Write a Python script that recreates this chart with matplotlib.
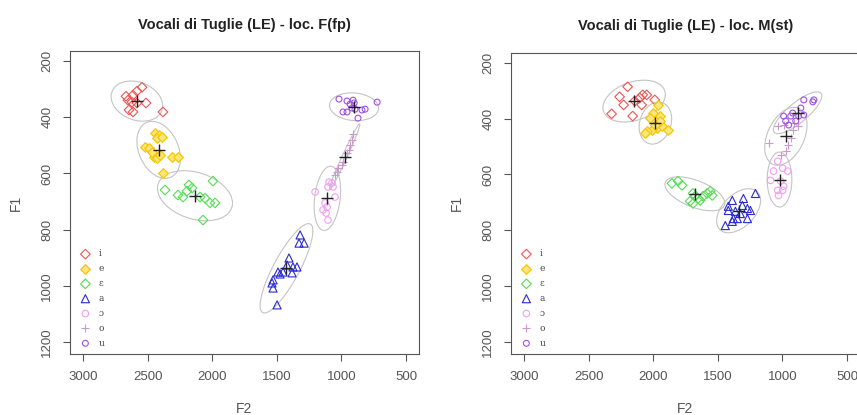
import numpy as np
import matplotlib.pyplot as plt
from matplotlib.patches import Ellipse

# vowel labels and styles
vowels = ["i", "e", "ɛ", "a", "ɔ", "o", "u"]
colors = ["#ee5555", "#f5c800", "#55dd55", "#2a2ad0", "#f0a0f0", "#cc99cc", "#a050e0"]
markers = ["D", "D", "D", "^", "o", "+", "o"]
sizes = [24, 24, 24, 34, 22, 30, 18]

# loc. F(fp) : F2 and F1 values (Hz)
f_F2 = [
    [2667, 2613, 2543, 2582, 2621, 2644, 2613, 2582, 2512, 2381, 2652],
    [2443, 2412, 2427, 2389, 2520, 2489, 2450, 2427, 2404, 2311, 2265, 2381, 2466],
    [2180, 2156, 2195, 2265, 2226, 2365, 1994, 2094, 2056, 2017, 1978, 2071],
    [1320, 1328, 1289, 1406, 1421, 1375, 1344, 1382, 1452, 1491, 1475, 1529, 1537, 1529, 1498],
    [1096, 1073, 1065, 1104, 1204, 1050, 1127, 1111, 1142, 1119, 1104],
    [910, 918, 933, 941, 957, 972, 988, 995, 1026, 1034, 1050],
    [1019, 957, 910, 902, 933, 988, 957, 918, 841, 817, 872, 724, 895],
]
f_F1 = [
    [325, 321, 293, 307, 346, 374, 381, 349, 349, 381, 339],
    [456, 463, 474, 470, 506, 510, 542, 545, 535, 542, 542, 599, 524],
    [641, 652, 663, 677, 684, 659, 627, 684, 688, 705, 705, 766],
    [819, 848, 848, 901, 926, 933, 933, 954, 951, 951, 958, 979, 990, 1008, 1068],
    [631, 634, 648, 648, 666, 684, 705, 720, 730, 741, 766],
    [460, 481, 499, 517, 527, 542, 559, 570, 581, 595, 606],
    [335, 342, 339, 349, 353, 381, 381, 367, 374, 371, 403, 346, 371],
]

# loc. M(st)
m_F2 = [
    [2198, 2260, 2229, 2322, 2159, 2104, 2081, 2050, 2089, 1988, 2143],
    [1964, 2003, 2026, 1949, 1972, 2011, 2050, 2065, 1933, 1886, 1949, 1988],
    [1855, 1808, 1777, 1692, 1653, 1637, 1614, 1583, 1559, 1544, 1715, 1692, 1676],
    [1209, 1302, 1388, 1419, 1310, 1271, 1248, 1364, 1326, 1380, 1388, 1349, 1271, 1442, 1419],
    [1037, 998, 1069, 1092, 1014, 991, 1037, 998, 1030, 960],
    [1037, 991, 913, 882, 921, 1107, 1014, 975, 936, 960],
    [921, 936, 991, 975, 897, 858, 835, 835, 765, 757, 874, 952],
]
m_F1 = [
    [286, 322, 351, 383, 391, 326, 315, 315, 351, 333, 337],
    [351, 380, 398, 391, 434, 441, 445, 452, 427, 441, 409, 423],
    [632, 624, 639, 668, 686, 693, 678, 668, 660, 675, 696, 704, 678],
    [668, 686, 693, 714, 711, 722, 729, 732, 740, 758, 768, 758, 758, 783, 729],
    [553, 578, 588, 621, 624, 642, 657, 657, 675, 588],
    [427, 423, 416, 427, 441, 488, 531, 517, 470, 495],
    [380, 391, 391, 409, 409, 362, 387, 333, 340, 333, 391, 423],
]

titles = ["Vocali di Tuglie (LE) - loc. F(fp)", "Vocali di Tuglie (LE) - loc. M(st)"]

plt.rcParams["font.family"] = ["Liberation Sans", "DejaVu Sans"]


def conf_ellipse(ax, x, y, k=2.45):
    x = np.asarray(x, float)
    y = np.asarray(y, float)
    cov = np.cov(x, y)
    vals, vecs = np.linalg.eigh(cov)
    angle = np.degrees(np.arctan2(vecs[1, 1], vecs[0, 1]))
    e = Ellipse((x.mean(), y.mean()), 2 * k * np.sqrt(vals[1]), 2 * k * np.sqrt(vals[0]),
                angle=angle, fill=False, ec="#c4c4c4", lw=0.8, zorder=1)
    ax.add_patch(e)
    ax.plot(x.mean(), y.mean(), "+", color="#222222", ms=8, mew=1, zorder=4)


def draw_panel(ax, F2, F1, title):
    for v, xs, ys, c, m, s in zip(vowels, F2, F1, colors, markers, sizes):
        if m == "+":
            ax.scatter(xs, ys, marker=m, c=c, s=s, lw=0.8, label=v, zorder=2)
        elif v == "e":
            ax.scatter(xs, ys, marker=m, facecolors="#ffe680", edgecolors=c, s=s, lw=0.9, label=v, zorder=2)
        else:
            ax.scatter(xs, ys, marker=m, facecolors="none", edgecolors=c, s=s, lw=0.8, label=v, zorder=2)
        conf_ellipse(ax, xs, ys)
    ax.set_xlim(3100, 400)
    ax.set_ylim(1243, 164)
    ax.set_xticks([3000, 2500, 2000, 1500, 1000, 500])
    ax.set_yticks([200, 400, 600, 800, 1000, 1200])
    for lab in ax.get_yticklabels():
        lab.set_rotation(90)
        lab.set_va("center")
    ax.tick_params(colors="#555555", labelsize=9.5, length=5, pad=7)
    for sp in ax.spines.values():
        sp.set_color("#555555")
    ax.set_xlabel("F2", color="#555555", fontsize=10, labelpad=14)
    ax.set_ylabel("F1", color="#555555", fontsize=10, labelpad=13)
    ax.set_title(title, fontsize=10.5, fontweight="bold", color="#222222", pad=16)
    leg = ax.legend(loc="lower left", frameon=False, handletextpad=0.5,
                    labelspacing=0.65, borderaxespad=0.3, bbox_to_anchor=(0.0, 0.0),
                    prop={"family": ["DejaVu Serif"], "size": 6.5})
    for t in leg.get_texts():
        t.set_color("#444444")


fig = plt.figure(figsize=(8.57, 4.15), dpi=100)
ax1 = fig.add_axes([0.0817, 0.147, 0.4072, 0.730])
ax2 = fig.add_axes([0.5963, 0.147, 0.4072, 0.726])
draw_panel(ax1, f_F2, f_F1, titles[0])
draw_panel(ax2, m_F2, m_F1, titles[1])

fig.savefig("out.png", dpi=100)
